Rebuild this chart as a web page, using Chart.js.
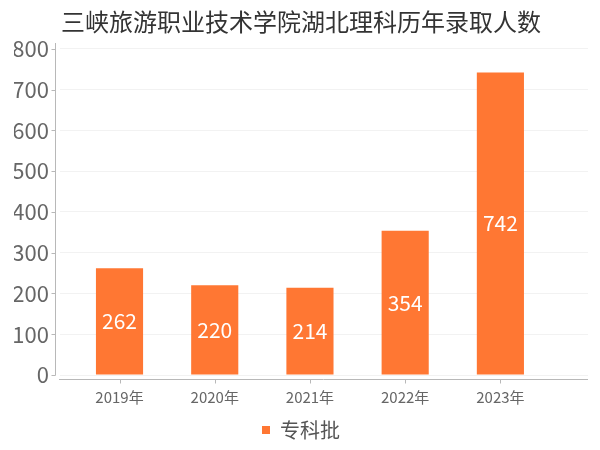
<!DOCTYPE html>
<html>
<head>
<meta charset="utf-8">
<script src="https://cdn.jsdelivr.net/npm/chart.js@4/dist/chart.umd.min.js"></script>
<style>
html,body{margin:0;padding:0;background:#fff;}
#wrap{width:600px;height:450px;}
</style>
</head>
<body>
<div id="wrap"><canvas id="c" width="600" height="450"></canvas></div>
<script>
const titleText = '三峡旅游职业技术学院湖北理科历年录取人数';
const categories = ['2019年', '2020年', '2021年', '2022年', '2023年'];
const seriesName = '专科批';
const seriesValues = [262, 220, 214, 354, 742];
const yTicks = [0, 100, 200, 300, 400, 500, 600, 700, 800];

const FONT = '"Noto Sans CJK SC", "Noto Sans", sans-serif';
const BAR = '#FF7733';
const AXIS = '#b8b8b8';

const axisPlugin = {
  id: 'axisLines',
  afterDraw(chart) {
    const {ctx, chartArea: a, scales} = chart;
    ctx.save();
    ctx.strokeStyle = AXIS;
    ctx.lineWidth = 1;
    const yx = Math.round(a.left - 5) + 0.5;
    const xy = Math.round(a.bottom + 4) + 0.5;
    ctx.beginPath();
    ctx.moveTo(yx, Math.round(a.top) - 6);
    ctx.lineTo(yx, Math.round(a.bottom) + 0.5);
    scales.y.ticks.forEach((t, i) => {
      const py = Math.round(scales.y.getPixelForTick(i)) + 0.5;
      ctx.moveTo(yx - 4, py);
      ctx.lineTo(yx, py);
    });
    ctx.moveTo(Math.round(a.left) - 1, xy);
    ctx.lineTo(Math.round(a.right), xy);
    scales.x.ticks.forEach((t, i) => {
      const px = Math.round(scales.x.getPixelForTick(i)) + 0.5;
      ctx.moveTo(px, xy);
      ctx.lineTo(px, xy + 4);
    });
    ctx.stroke();
    ctx.restore();
  }
};

const labelPlugin = {
  id: 'barLabels',
  afterDatasetsDraw(chart) {
    const {ctx} = chart;
    ctx.save();
    ctx.fillStyle = '#ffffff';
    ctx.font = '21px ' + FONT;
    ctx.textAlign = 'center';
    ctx.textBaseline = 'middle';
    chart.getDatasetMeta(0).data.forEach((el, i) => {
      ctx.fillText(String(seriesValues[i]), el.x, (el.y + el.base) / 2);
    });
    ctx.restore();
  }
};

new Chart(document.getElementById('c'), {
  type: 'bar',
  data: {
    datasets: [{
      label: seriesName,
      data: seriesValues.map((v, i) => ({x: i, y: v})),
      backgroundColor: BAR,
      borderWidth: 0,
      categoryPercentage: 0.5,
      barPercentage: 0.99
    }]
  },
  options: {
    responsive: false,
    animation: false,
    devicePixelRatio: 1,
    layout: {padding: {left: 14, right: 12, top: 0, bottom: 0}},
    plugins: {
      title: {
        display: true,
        text: titleText,
        color: '#333333',
        font: {family: FONT, size: 24, weight: 'normal'},
        padding: {top: 7, bottom: 13}
      },
      legend: {
        display: true,
        position: 'bottom',
        labels: {
          boxWidth: 8,
          boxHeight: 8,
          padding: 8,
          color: '#555555',
          font: {family: FONT, size: 20}
        }
      },
      tooltip: {enabled: false}
    },
    scales: {
      x: {
        type: 'linear',
        offset: false,
        min: -0.625,
        max: 4.92,
        border: {display: false},
        grid: {display: false, drawTicks: false, offset: false},
        afterFit(s) { s.height = 37; },
        ticks: {
          stepSize: 1,
          includeBounds: false,
          autoSkip: false,
          maxRotation: 0,
          padding: 13,
          color: '#666666',
          font: {family: FONT, size: 15},
          callback: (v) => Number.isInteger(v) ? categories[v] : ''
        }
      },
      y: {
        min: yTicks[0],
        max: yTicks[yTicks.length - 1],
        border: {display: false},
        afterFit(s) { s.width = 46; },
        grid: {color: '#f2f2f2', drawTicks: false},
        ticks: {
          stepSize: 100,
          padding: 11,
          color: '#666666',
          font: {family: FONT, size: 22}
        }
      }
    }
  },
  plugins: [axisPlugin, labelPlugin]
});
</script>
</body>
</html>
